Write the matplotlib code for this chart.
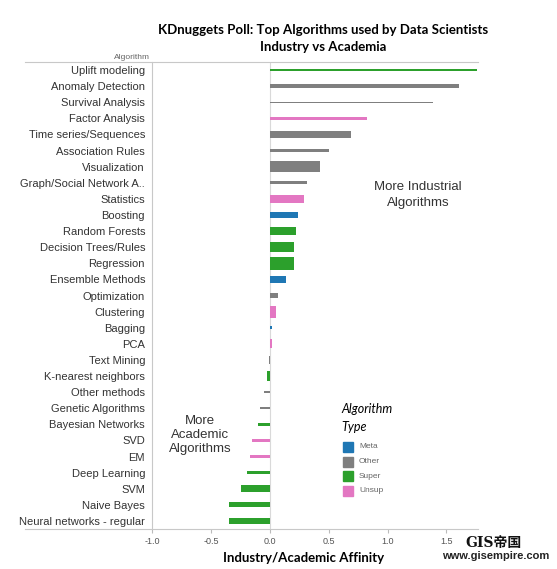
import matplotlib
matplotlib.use("Agg")
import matplotlib.pyplot as plt
from matplotlib.patches import Rectangle
from matplotlib.lines import Line2D

# ---- data ----
algorithms = ["Uplift modeling", "Anomaly Detection", "Survival Analysis", "Factor Analysis",
              "Time series/Sequences", "Association Rules", "Visualization",
              "Graph/Social Network A..", "Statistics", "Boosting", "Random Forests",
              "Decision Trees/Rules", "Regression", "Ensemble Methods", "Optimization",
              "Clustering", "Bagging", "PCA", "Text Mining", "K-nearest neighbors",
              "Other methods", "Genetic Algorithms", "Bayesian Networks", "SVD", "EM",
              "Deep Learning", "SVM", "Naive Bayes", "Neural networks - regular"]
affinity = [1.85, 1.61, 1.39, 0.83, 0.69, 0.50, 0.43, 0.32, 0.29, 0.24, 0.22,
            0.21, 0.21, 0.14, 0.07, 0.05, 0.02, 0.02, -0.005, -0.02,
            -0.05, -0.08, -0.10, -0.15, -0.17, -0.19, -0.24, -0.35, -0.35]
alg_type = ["Super", "Other", "Other", "Unsup", "Other", "Other", "Other", "Other",
            "Unsup", "Meta", "Super", "Super", "Super", "Meta", "Other", "Unsup",
            "Meta", "Unsup", "Other", "Super", "Other", "Other", "Super", "Unsup",
            "Unsup", "Super", "Super", "Super", "Super"]
# relative popularity (encoded by bar thickness)
popularity = [0.10, 0.28, 0.09, 0.18, 0.48, 0.18, 0.66, 0.18, 0.54, 0.40, 0.46,
              0.60, 0.80, 0.46, 0.30, 0.75, 0.22, 0.58, 0.45, 0.58,
              0.09, 0.09, 0.21, 0.21, 0.15, 0.21, 0.42, 0.30, 0.33]
type_names = ["Meta", "Other", "Super", "Unsup"]
type_colors = {"Meta": "#1f77b4", "Other": "#7f7f7f", "Super": "#2ca02c", "Unsup": "#e377c2"}
x_ticks = [-1.0, -0.5, 0.0, 0.5, 1.0, 1.5]

W, H = 557, 569
fig = plt.figure(figsize=(W / 100, H / 100), dpi=100)
plt.rcParams["font.family"] = ["Liberation Sans", "DejaVu Sans"]

ax = fig.add_axes([152 / W, 1 - 529 / H, (477 - 152) / W, (529 - 62) / H])
n = len(algorithms)
ys = list(range(n))
ax.barh(ys, affinity, height=popularity,
        color=[type_colors[t] for t in alg_type], zorder=3)
ax.set_xlim(-1.0, 1.76)
ax.set_ylim(n - 0.5, -0.5)
ax.axvline(0, color="#d9d9d9", lw=0.8, zorder=1)

ax.set_yticks(ys)
ax.set_yticklabels(algorithms, fontsize=8, color="#333333")
ax.tick_params(axis="y", length=0, pad=5)
ax.set_xticks(x_ticks)
ax.set_xticklabels([f"{v:.1f}" for v in x_ticks], fontsize=6.5, color="#555555")
ax.tick_params(axis="x", length=3, color="#bbbbbb", pad=3)
for s in ["top", "right"]:
    ax.spines[s].set_visible(False)
ax.spines["left"].set_color("#c8c8c8")
ax.spines["left"].set_linewidth(0.8)
ax.spines["bottom"].set_visible(False)

# horizontal rules spanning label area
for yy in [62, 529]:
    fig.add_artist(Line2D([25 / W, 478 / W], [1 - yy / H, 1 - yy / H],
                          color="#c8c8c8", lw=0.8))

fig.text(150 / W, 1 - 57 / H, "Algorithm", fontsize=6, color="#666666",
         ha="right", va="center")

fig.text(323 / W, 1 - 30 / H, "KDnuggets Poll: Top Algorithms used by Data Scientists",
         fontsize=9.5, fontweight="bold", family=["Lato", "DejaVu Sans"],
         ha="center", va="center")
fig.text(323 / W, 1 - 47 / H, "Industry vs Academia",
         fontsize=9.5, fontweight="bold", family=["Lato", "DejaVu Sans"],
         ha="center", va="center")

fig.text(304 / W, 1 - 558 / H, "Industry/Academic Affinity", fontsize=9.5,
         fontweight="bold", family=["Lato", "DejaVu Sans"], ha="center", va="center")

fig.text(418 / W, 1 - 195 / H, "More Industrial\nAlgorithms", fontsize=9.5,
         color="#333333", ha="center", va="center", linespacing=1.4)
fig.text(200 / W, 1 - 435 / H, "More\nAcademic\nAlgorithms", fontsize=9.5,
         color="#333333", ha="center", va="center", linespacing=1.25)

# legend
fig.text(341 / W, 1 - 409 / H, "Algorithm", fontsize=9, style="italic",
         family=["Lato", "DejaVu Sans"], ha="left", va="center")
fig.text(341 / W, 1 - 427 / H, "Type", fontsize=9, style="italic",
         family=["Lato", "DejaVu Sans"], ha="left", va="center")
for i, t in enumerate(type_names):
    yc = 447 + i * 14.5
    fig.add_artist(Rectangle((343 / W, 1 - (yc + 5) / H), 10 / W, 10 / H,
                             color=type_colors[t], transform=fig.transFigure))
    fig.text(359 / W, 1 - yc / H, t, fontsize=6, color="#666666",
             ha="left", va="center")

# watermark
fig.text(494 / W, 1 - 543 / H, "GIS帝国", fontsize=10, fontweight="bold",
         family=["DejaVu Serif", "Noto Sans CJK SC"], ha="center", va="center", color="#111111")
fig.text(496 / W, 1 - 556 / H, "www.gisempire.com", fontsize=8, fontweight="bold",
         ha="center", va="center", color="#222222")

fig.savefig("out.png", dpi=100)
